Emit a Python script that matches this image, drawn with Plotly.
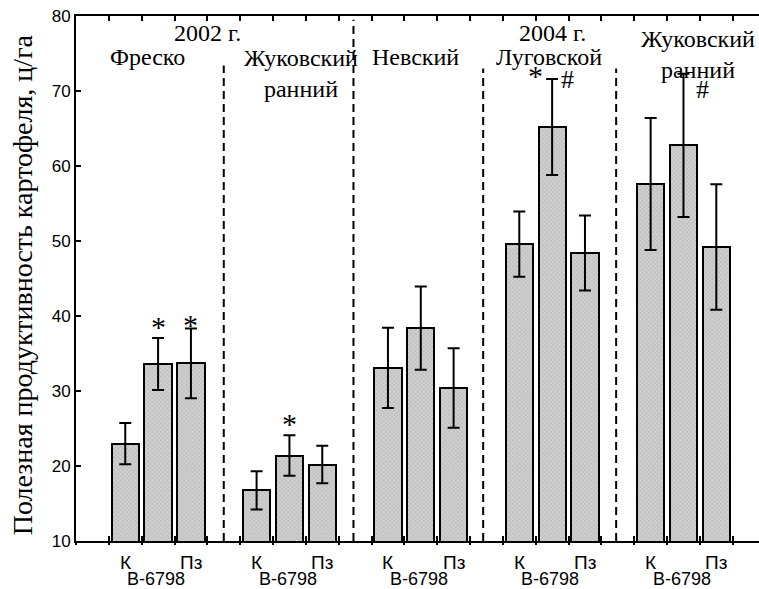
import plotly.graph_objects as go

# ---- data ----
years = ["2002 г.", "2004 г."]
varieties = ["Фреско", "Жуковский<br>ранний", "Невский", "Луговской", "Жуковский<br>ранний"]
treatments = ["К", "В-6798", "Пз"]
means = [
    [23.0, 33.6, 33.7],
    [16.75, 21.4, 20.2],
    [33.1, 38.4, 30.4],
    [49.6, 65.2, 48.4],
    [57.6, 62.75, 49.2],
]
errors = [
    [2.75, 3.45, 4.65],
    [2.55, 2.7, 2.5],
    [5.35, 5.55, 5.3],
    [4.35, 6.4, 5.0],
    [8.8, 9.55, 8.35],
]
# significance marks: (variety index, treatment index, symbol)
marks = [(0, 1, "*"), (0, 2, "*"), (1, 1, "*"), (3, 1, "*"), (3, 1, "#"), (4, 1, "#")]
y_ticks = [10, 20, 30, 40, 50, 60, 70, 80]

SERIF = "Liberation Serif, Times New Roman, serif"
SANS = "Liberation Sans, Arial, sans-serif"

# slot layout: each variety takes 4 slots (3 bars + one separator slot)
xs, ys, es = [], [], []
for g, (m_row, e_row) in enumerate(zip(means, errors)):
    for t, (m, e) in enumerate(zip(m_row, e_row)):
        xs.append(1 + 4 * g + t + 0.5)
        ys.append(m)
        es.append(e)

fig = go.Figure()
fig.add_trace(go.Bar(
    x=xs, y=ys, width=0.83,
    marker=dict(
        color="#c4c4c4",
        line=dict(color="black", width=2),
        pattern=dict(shape="x", fgcolor="#8e8e8e", bgcolor="#d0d0d0", size=3, solidity=0.3),
    ),
    error_y=dict(type="data", array=es, visible=True, color="black", thickness=2, width=6),
    showlegend=False,
))
# invisible trace to host the outer bottom tick marks
fig.add_trace(go.Scatter(x=[0], y=[10], xaxis="x2", mode="markers",
                         marker=dict(opacity=0), showlegend=False, hoverinfo="skip"))

shapes = []
# dashed separators (slot centers between groups)
sep_x = [4.5, 8.45, 12.4, 16.45]
sep_top = [73.4, 79.5, 73.0, 73.0]
for sx, st in zip(sep_x, sep_top):
    shapes.append(dict(type="line", xref="x", yref="y", x0=sx, x1=sx, y0=10, y1=st,
                       line=dict(color="black", width=2, dash="8px,5px")))

ann = []
# year labels
for yr, xx in zip(years, [4.0, 14.51]):
    ann.append(dict(x=xx, y=77.7, text=yr, showarrow=False, xref="x", yref="y",
                    font=dict(family=SERIF, size=24, color="black")))
# variety labels
var_pos = [(2.18, 74.5), (6.85, 72.4), (10.35, 74.5), (14.4, 74.5), (18.95, 74.9)]
for name, (vx, vy) in zip(varieties, var_pos):
    ann.append(dict(x=vx, y=vy, text=name, showarrow=False, xref="x", yref="y",
                    font=dict(family=SERIF, size=24, color="black"),
                    align="center"))
# significance marks
mark_pos = [(2.5, 38.6), (3.5, 38.9), (6.5, 25.7), (14.0, 72.1), (14.98, 71.6), (19.08, 70.2)]
mark_size = {"*": 30, "#": 26}
for (g, t, sym), (mx, my) in zip(marks, mark_pos):
    ann.append(dict(x=mx, y=my, text=sym, showarrow=False, xref="x", yref="y",
                    font=dict(family=SERIF, size=mark_size[sym], color="black")))
# treatment labels under each group
for g in range(len(varieties)):
    base = 1 + 4 * g
    ann.append(dict(x=base + 0.5, y=-0.041, text=treatments[0], showarrow=False, xref="x", yref="paper",
                    yanchor="middle", font=dict(family=SANS, size=19, color="black")))
    ann.append(dict(x=base + 2.5, y=-0.041, text=treatments[2], showarrow=False, xref="x", yref="paper",
                    yanchor="middle", font=dict(family=SANS, size=19, color="black")))
    ann.append(dict(x=base + 1.45, y=-0.072, text=treatments[1], showarrow=False, xref="x", yref="paper",
                    yanchor="middle", font=dict(family=SANS, size=18, color="black")))
# y-axis title
ann.append(dict(x=0, y=0.487, xref="paper", yref="paper", xanchor="center", yanchor="middle",
                xshift=-54, textangle=-90,
                text="Полезная продуктивность картофеля, ц/га", showarrow=False,
                font=dict(family=SERIF, size=28, color="black")))

fig.update_layout(
    width=759, height=589,
    margin=dict(l=76, r=0, t=16, b=48, pad=0),
    paper_bgcolor="white", plot_bgcolor="white",
    shapes=shapes, annotations=ann,
    bargap=0,
    xaxis=dict(range=[0, 20.8], tickvals=list(range(0, 21)), ticktext=[""] * 21,
               ticks="inside", ticklen=5, tickwidth=2, tickcolor="black",
               showline=True, linecolor="black", linewidth=2, mirror="ticks",
               showgrid=False, zeroline=False),
    xaxis2=dict(range=[0, 20.8], overlaying="x", side="bottom", anchor="y",
                tickvals=list(range(0, 21)), ticktext=[""] * 21,
                ticks="outside", ticklen=3, tickwidth=2, tickcolor="black",
                showline=False, showgrid=False, zeroline=False),
    yaxis=dict(range=[10, 80], tickvals=y_ticks, ticks="inside", ticklen=5, tickwidth=2,
               tickcolor="black", showline=True, linecolor="black", linewidth=2,
               showgrid=False, zeroline=False,
               tickfont=dict(family=SANS, size=17, color="black")),
)

fig.write_html("out.html")
